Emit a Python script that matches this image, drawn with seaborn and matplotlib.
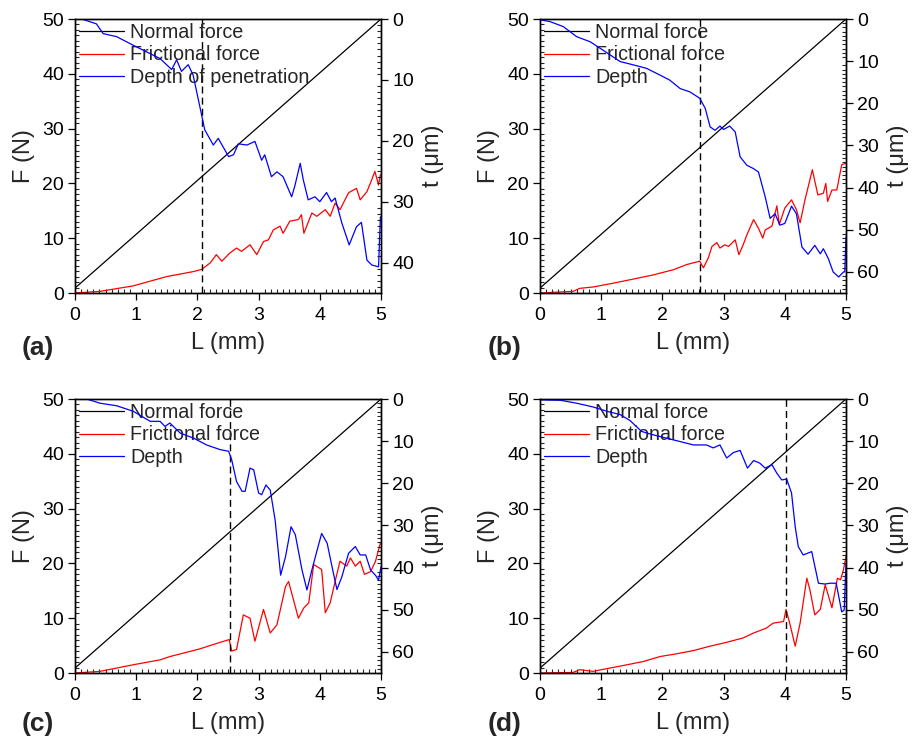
import numpy as np
import pandas as pd
import matplotlib
matplotlib.use("Agg")
import matplotlib.pyplot as plt
import seaborn as sns
from matplotlib.ticker import MultipleLocator

sns.set_style("ticks")
plt.rcParams['font.family'] = ['Liberation Sans', 'DejaVu Sans']

# ---------------- data ----------------
normal_L = [0.0, 5.0]
normal_F = [0.9, 50.0]

# panel (a)
a_fric_L = [0, 0.41, 0.95, 1.50, 1.93, 2.07, 2.21, 2.31, 2.40, 2.53, 2.64, 2.72, 2.86, 2.97, 3.08, 3.16,
            3.24, 3.35, 3.40, 3.51, 3.65, 3.70, 3.74, 3.87, 3.95, 4.09, 4.17, 4.25, 4.33, 4.47, 4.60,
            4.66, 4.77, 4.85, 4.90, 4.96, 4.99]
a_fric_F = [0, 0.3, 1.3, 3.0, 3.9, 4.3, 5.5, 7.0, 5.8, 7.3, 8.2, 7.6, 8.8, 7.0, 9.4, 9.7,
            11.5, 12.2, 10.9, 13.1, 13.4, 14.3, 10.9, 14.6, 14.0, 15.2, 14.0, 16.4, 15.2, 18.3, 19.1,
            17.0, 18.5, 20.7, 22.2, 19.7, 21.6]
a_depth_L = [0, 0.11, 0.35, 0.46, 0.68, 0.95, 1.17, 1.39, 1.58, 1.66, 1.74, 1.85, 1.93, 2.04, 2.12,
             2.26, 2.34, 2.42, 2.51, 2.59, 2.67, 2.81, 2.94, 3.05, 3.10, 3.21, 3.30, 3.40, 3.54, 3.59,
             3.68, 3.73, 3.81, 3.92, 4.00, 4.11, 4.19, 4.25, 4.36, 4.48, 4.60, 4.68, 4.77, 4.85, 4.96, 4.99]
a_depth_t = [-0.8, 0.0, 0.8, 2.4, 2.9, 4.3, 5.4, 6.5, 8.3, 6.7, 8.6, 7.5, 9.2, 14.4, 18.2,
             20.7, 19.6, 21.0, 22.6, 22.3, 20.5, 20.7, 20.1, 23.2, 22.3, 25.9, 25.1, 25.9, 29.2, 27.5,
             23.7, 26.4, 29.7, 29.2, 30.0, 28.5, 30.0, 29.4, 33.5, 37.1, 34.1, 33.4, 39.6, 40.4, 40.7, 32.5]
a_cut = 2.08
a_tmax = 45

# panel (b)
b_fric_L = [0, 0.54, 0.65, 0.87, 1.20, 1.53, 1.85, 2.18, 2.40, 2.61, 2.67, 2.75, 2.81, 2.89, 2.94,
            3.02, 3.08, 3.19, 3.25, 3.32, 3.38, 3.49, 3.57, 3.64, 3.68, 3.79, 3.87, 3.91, 4.00, 4.11,
            4.19, 4.25, 4.33, 4.45, 4.54, 4.63, 4.67, 4.70, 4.77, 4.85, 4.93, 5.0]
b_fric_F = [0, 0.3, 0.85, 1.1, 1.8, 2.55, 3.3, 4.25, 5.2, 5.8, 4.6, 6.4, 8.5, 9.2, 8.2,
            8.8, 8.5, 9.7, 7.0, 8.8, 10.6, 13.4, 11.8, 10.0, 11.5, 12.2, 15.9, 12.5, 15.5, 17.0,
            15.2, 12.8, 17.0, 22.5, 17.9, 18.2, 20.0, 16.7, 18.8, 18.8, 23.4, 23.7]
b_depth_L = [0, 0.16, 0.38, 0.60, 0.82, 1.03, 1.31, 1.53, 1.74, 1.96, 2.12, 2.29, 2.45, 2.61, 2.70,
             2.78, 2.86, 2.94, 3.00, 3.10, 3.19, 3.27, 3.38, 3.49, 3.57, 3.68, 3.76, 3.84, 3.92, 4.00,
             4.11, 4.19, 4.28, 4.38, 4.49, 4.58, 4.63, 4.71, 4.79, 4.88, 4.96, 4.98, 5.0]
b_depth_t = [0.2, 0.6, 1.8, 4.2, 5.4, 7.4, 10.1, 10.9, 11.7, 13.3, 14.5, 16.5, 17.3, 18.8, 21.2,
             25.6, 26.4, 25.4, 26.2, 25.4, 26.8, 32.7, 34.7, 35.5, 36.3, 42.2, 47.3, 46.2, 48.9, 48.5,
             44.4, 46.2, 54.1, 55.8, 53.7, 55.7, 54.5, 56.8, 60.0, 61.2, 60.0, 60.0, 51.7]
b_cut = 2.62
b_tmax = 65

# panel (c)
c_fric_L = [0, 0.41, 0.95, 1.39, 1.55, 1.83, 2.04, 2.26, 2.52, 2.56, 2.64, 2.75, 2.86, 2.94, 3.08,
            3.19, 3.30, 3.44, 3.49, 3.54, 3.65, 3.74, 3.82, 3.90, 4.03, 4.09, 4.17, 4.25, 4.33, 4.44,
            4.50, 4.58, 4.66, 4.73, 4.83, 4.91, 4.99]
c_fric_F = [0, 0.3, 1.5, 2.4, 3.0, 3.8, 4.4, 5.2, 6.1, 4.0, 4.3, 10.6, 10.0, 5.8, 11.6,
            7.3, 8.8, 15.8, 16.7, 14.6, 10.0, 11.9, 12.8, 19.8, 18.9, 11.0, 12.8, 16.7, 20.4, 19.5,
            21.0, 19.5, 20.4, 18.0, 18.5, 20.4, 23.7]
c_depth_L = [0, 0.19, 0.41, 0.68, 0.95, 1.23, 1.39, 1.47, 1.55, 1.72, 1.94, 2.15, 2.37, 2.51, 2.56,
             2.64, 2.73, 2.78, 2.86, 2.92, 3.00, 3.05, 3.12, 3.19, 3.27, 3.36, 3.44, 3.53, 3.60, 3.71,
             3.79, 3.87, 3.95, 4.03, 4.12, 4.20, 4.28, 4.36, 4.47, 4.58, 4.66, 4.75, 4.83, 4.91, 4.96, 5.0]
c_depth_t = [0, 0, 1.0, 1.6, 2.9, 5.3, 5.3, 6.5, 5.7, 8.1, 9.3, 10.9, 12.0, 12.4, 14.4,
             19.6, 21.9, 21.9, 16.4, 16.8, 22.3, 22.7, 20.4, 21.6, 28.7, 41.8, 37.4, 30.3, 32.2, 40.6,
             45.3, 40.6, 36.2, 31.9, 34.2, 39.8, 45.2, 42.2, 36.6, 35.0, 37.0, 37.0, 40.6, 41.8, 43.0, 39.8]
c_cut = 2.53
c_tmax = 65

# panel (d)
d_fric_L = [0, 0.54, 0.65, 0.87, 1.14, 1.42, 1.69, 1.96, 2.23, 2.51, 2.78, 3.05, 3.32, 3.49, 3.70,
            3.81, 3.98, 4.02, 4.08, 4.17, 4.25, 4.36, 4.41, 4.49, 4.58, 4.66, 4.77, 4.86, 4.91, 4.96, 5.0]
d_fric_F = [0, 0.1, 0.6, 0.3, 0.9, 1.5, 2.1, 3.0, 3.5, 4.1, 4.9, 5.6, 6.4, 7.3, 8.2,
            9.1, 9.4, 11.6, 9.1, 4.9, 9.1, 17.3, 15.2, 10.6, 11.6, 16.1, 11.9, 17.3, 17.0, 18.9, 21.3]
d_depth_L = [0, 0.33, 0.60, 0.87, 1.09, 1.31, 1.47, 1.66, 1.85, 2.07, 2.29, 2.51, 2.72, 2.83, 2.94,
             3.05, 3.16, 3.27, 3.39, 3.49, 3.59, 3.68, 3.79, 3.87, 3.95, 4.03, 4.11, 4.17, 4.22, 4.30,
             4.44, 4.55, 4.66, 4.74, 4.84, 4.93, 4.97, 5.0]
d_depth_t = [0.2, 0.3, 1.0, 1.9, 2.9, 3.7, 5.1, 7.7, 8.5, 9.3, 10.1, 10.9, 10.9, 11.6, 10.9,
             14.0, 12.7, 12.2, 16.4, 14.6, 15.2, 16.4, 15.6, 17.6, 19.2, 19.0, 22.3, 30.3, 35.0, 37.0,
             36.2, 43.7, 43.9, 43.7, 43.7, 50.5, 50.1, 39.0]
d_cut = 4.02
d_tmax = 65

panel_labels = ["(a)", "(b)", "(c)", "(d)"]
depth_names = ["Depth of penetration", "Depth", "Depth", "Depth"]

panels = [
    (a_fric_L, a_fric_F, a_depth_L, a_depth_t, a_cut, a_tmax),
    (b_fric_L, b_fric_F, b_depth_L, b_depth_t, b_cut, b_tmax),
    (c_fric_L, c_fric_F, c_depth_L, c_depth_t, c_cut, c_tmax),
    (d_fric_L, d_fric_F, d_depth_L, d_depth_t, d_cut, d_tmax),
]

# ---------------- figure ----------------
W, H = 917, 738
fig = plt.figure(figsize=(W / 100, H / 100), dpi=100)

# axes boxes in pixels: (left, top, right, bottom)
boxes = [(75, 19, 381, 293), (540, 19, 846, 293), (75, 399, 381, 673), (540, 399, 846, 673)]
label_pos = [(22, 348), (488, 348), (22, 724), (488, 724)]

LW = 0.9
for i, (fL, fF, dL, dT, cut, tmax) in enumerate(panels):
    l, t, r, b = boxes[i]
    ax = fig.add_axes([l / W, 1 - b / H, (r - l) / W, (b - t) / H])
    ax2 = ax.twinx()

    sns.lineplot(x=normal_L, y=normal_F, ax=ax, color="black", lw=LW, estimator=None,
                 sort=False, label="Normal force", legend=False)
    sns.lineplot(x=fL, y=fF, ax=ax, color="#ff0000", lw=LW, estimator=None,
                 sort=False, label="Frictional force", legend=False)
    sns.lineplot(x=dL, y=dT, ax=ax2, color="#0000ff", lw=LW, estimator=None,
                 sort=False, label=depth_names[i], legend=False)
    ax.axvline(cut, color="black", lw=1.0, ls=(0, (5, 3)))

    ax.set_xlim(0, 5)
    ax.set_ylim(0, 50)
    ax2.set_ylim(tmax, 0)

    ax.xaxis.set_major_locator(MultipleLocator(1))
    ax.xaxis.set_minor_locator(MultipleLocator(0.1))
    ax.yaxis.set_major_locator(MultipleLocator(10))
    ax.yaxis.set_minor_locator(MultipleLocator(1))
    ax2.yaxis.set_major_locator(MultipleLocator(10))
    ax2.yaxis.set_minor_locator(MultipleLocator(1))

    for a in (ax, ax2):
        a.tick_params(which="major", direction="out", length=5, width=0.9, labelsize=14,
                      colors="black", pad=3)
        a.tick_params(which="minor", direction="in", length=3, width=0.8)
        for s in a.spines.values():
            s.set_visible(True)
            s.set_linewidth(1.0)
            s.set_color("black")
    ax.tick_params(which="both", top=False, right=False)
    ax.tick_params(axis="x", which="major", pad=5)
    ax2.tick_params(which="both", top=False, left=False, bottom=False)

    ax.set_xlabel("L (mm)", fontsize=17, labelpad=6)
    ax.set_ylabel("F (N)", fontsize=17, labelpad=5)
    ax2.set_ylabel("t (\u03bcm)", fontsize=17, labelpad=6)

    h1, lab1 = ax.get_legend_handles_labels()
    h2, lab2 = ax2.get_legend_handles_labels()
    leg = ax.legend(h1 + h2, lab1 + lab2, loc="upper left", frameon=False, fontsize=14.2,
                    handlelength=2.3, handletextpad=0.3, labelspacing=0.18,
                    borderaxespad=0.05, borderpad=0.15)
    ax.set_zorder(ax2.get_zorder() - 1)
    ax.patch.set_visible(False)

    fx, fy = label_pos[i]
    fig.text(fx / W, 1 - fy / H, panel_labels[i], fontsize=19, fontweight="bold",
             ha="left", va="center")

fig.savefig("out.png", dpi=100)
